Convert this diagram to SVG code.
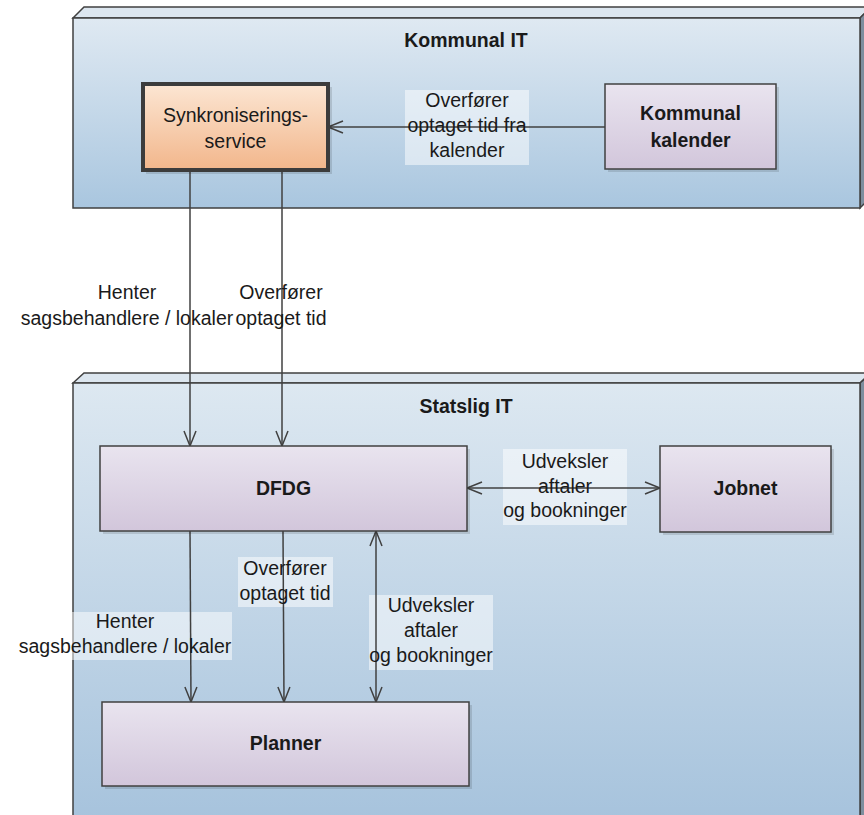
<svg xmlns="http://www.w3.org/2000/svg" width="864" height="815" viewBox="0 0 864 815">
<defs>
<linearGradient id="gTop" x1="0" y1="0" x2="0" y2="1">
<stop offset="0" stop-color="#dfe9f2"/>
<stop offset="1" stop-color="#a9c6df"/>
</linearGradient>
<linearGradient id="gBot" x1="0" y1="0" x2="0" y2="1">
<stop offset="0" stop-color="#dde8f1"/>
<stop offset="1" stop-color="#a5c2dc"/>
</linearGradient>
<linearGradient id="gNode" x1="0" y1="0" x2="0" y2="1">
<stop offset="0" stop-color="#e9e4ef"/>
<stop offset="1" stop-color="#d2c6db"/>
</linearGradient>
<linearGradient id="gSync" x1="0" y1="0" x2="0" y2="1">
<stop offset="0" stop-color="#fce6d3"/>
<stop offset="1" stop-color="#f2b68b"/>
</linearGradient>
<marker id="arr" markerUnits="userSpaceOnUse" markerWidth="20" markerHeight="16" refX="16" refY="7" orient="auto-start-reverse" viewBox="0 0 20 16">
<path d="M1,1 L16,7 L1,13" fill="none" stroke="#404040" stroke-width="1.5"/>
</marker>
<style>
.cont{stroke:#404040;stroke-width:1.5}
.topf{fill:#dce6ef;stroke:#404040;stroke-width:1.5}
.side{fill:#7d8e9e;stroke:#404040;stroke-width:1.5}
.node{fill:url(#gNode);stroke:#404040;stroke-width:1.5}
.shadow{fill:#000;opacity:0.12}
.conn{fill:none;stroke:#404040;stroke-width:1.5}
.lbg{fill:#fff;opacity:0.5}
text{font-family:"Liberation Sans",Arial,sans-serif;font-size:19.5px;fill:#1a1a1a;text-anchor:middle}
.b{font-weight:bold}
</style>
</defs>

<g id="kommunal-it">
<polygon class="topf" points="73,18 84,7 871,7 860,18"/>
<polygon class="side" points="860,18 871,7 871,197 860,208"/>
<rect class="cont" x="73" y="18" width="787" height="190" fill="url(#gTop)"/>
<text class="b" x="466" y="47">Kommunal IT</text>
</g>

<g id="statslig-it">
<polygon class="topf" points="73,383 84,373 871,373 860,383"/>
<polygon class="side" points="860,383 871,373 871,823 860,833"/>
<rect class="cont" x="73" y="383" width="787" height="450" fill="url(#gBot)"/>
<text class="b" x="466" y="413">Statslig IT</text>
</g>

<g id="connectors">
<rect class="lbg" x="405" y="90" width="124" height="75"/>
<rect class="lbg" x="503" y="449" width="124" height="76"/>
<rect class="lbg" x="20" y="612" width="212" height="48"/>
<rect class="lbg" x="238" y="557" width="95" height="50"/>
<rect class="lbg" x="369" y="595" width="124" height="75"/>
<line class="conn" x1="605" y1="127" x2="328" y2="127" marker-end="url(#arr)"/>
<line class="conn" x1="190" y1="170" x2="190" y2="446" marker-end="url(#arr)"/>
<line class="conn" x1="282" y1="170" x2="282" y2="446" marker-end="url(#arr)"/>
<line class="conn" x1="467" y1="488" x2="660" y2="488" marker-start="url(#arr)" marker-end="url(#arr)"/>
<line class="conn" x1="190" y1="531" x2="191" y2="702" marker-end="url(#arr)"/>
<line class="conn" x1="283" y1="531" x2="284" y2="702" marker-end="url(#arr)"/>
<line class="conn" x1="376" y1="531" x2="376" y2="702" marker-start="url(#arr)" marker-end="url(#arr)"/>
</g>

<g id="synkroniseringsservice">
<rect class="shadow" x="146" y="87" width="186" height="87"/>
<rect x="143" y="84" width="185" height="86" fill="url(#gSync)" stroke="#3c3c3c" stroke-width="4"/>
<text x="235.5" y="122">Synkroniserings-</text>
<text x="235.5" y="148">service</text>
</g>

<g id="kommunal-kalender">
<rect class="shadow" x="608" y="87" width="171" height="85"/>
<rect class="node" x="605" y="84" width="171" height="85"/>
<text class="b" x="690.5" y="120">Kommunal</text>
<text class="b" x="690.5" y="147">kalender</text>
</g>

<g id="dfdg">
<rect class="shadow" x="103" y="449" width="367" height="85"/>
<rect class="node" x="100" y="446" width="367" height="85"/>
<text class="b" x="283.5" y="495">DFDG</text>
</g>

<g id="jobnet">
<rect class="shadow" x="663" y="449" width="171" height="86"/>
<rect class="node" x="660" y="446" width="171" height="86"/>
<text class="b" x="745.5" y="495">Jobnet</text>
</g>

<g id="planner">
<rect class="shadow" x="105" y="705" width="367" height="84"/>
<rect class="node" x="102" y="702" width="367" height="84"/>
<text class="b" x="285.5" y="750">Planner</text>
</g>

<g id="labels">
<text x="467" y="107">Overfører</text>
<text x="467" y="132">optaget tid fra</text>
<text x="467" y="157">kalender</text>
<text x="127" y="299">Henter</text>
<text x="127" y="325">sagsbehandlere / lokaler</text>
<text x="281" y="299">Overfører</text>
<text x="281" y="325">optaget tid</text>
<text x="565" y="468">Udveksler</text>
<text x="565" y="493">aftaler</text>
<text x="565" y="517">og bookninger</text>
<text x="125" y="628">Henter</text>
<text x="125" y="653">sagsbehandlere / lokaler</text>
<text x="285" y="575">Overfører</text>
<text x="285" y="600">optaget tid</text>
<text x="431" y="612">Udveksler</text>
<text x="431" y="637">aftaler</text>
<text x="431" y="662">og bookninger</text>
</g>
</svg>
